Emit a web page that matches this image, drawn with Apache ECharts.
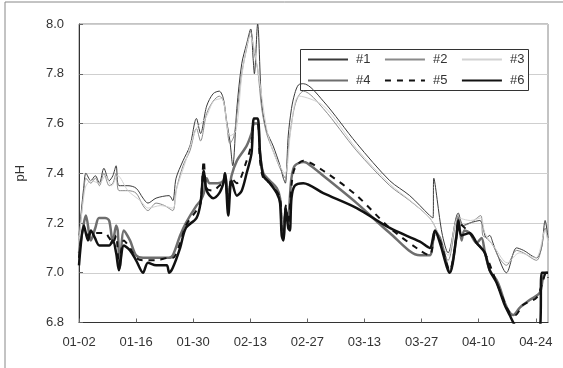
<!DOCTYPE html>
<html><head><meta charset="utf-8">
<script src="https://cdn.jsdelivr.net/npm/echarts@6/dist/echarts.min.js"></script>
<style>html,body{margin:0;padding:0;background:#fff}#c{width:563px;height:368px}</style>
</head><body><div id="c"></div>
<script>
const xTickLabels = ['01-02','01-16','01-30','02-13','02-27','03-13','03-27','04-10','04-24'];
const seriesNames = ['#1','#2','#3','#4','#5','#6'];

const days1 = [0,1.2,1.7,2.9,4.0,5.0,6.1,7.4,8.3,9.1,9.8,12,14,15.7,16.9,18.9,22.1,23.0,23.8,25.5,27.2,28.8,29.8,31.3,32.9,34.4,35.4,36.2,37.0,37.7,38.7,39.9,41.1,42.1,42.7,43.0,43.8,44.8,46.0,47.6,49.3,50.1,50.6,51.3,52.1,52.9,53.8,55.0,59.9,68.1,76.2,81.1,86.0,86.8,87.0,89.0,90.5,93.0,94.2,95.8,98.3,99.9,100.7,101.5,102.4,104.8,107.3,109,112.2,113.4,114.3,115];
const ph1 = [7.15,7.35,7.40,7.37,7.39,7.36,7.42,7.37,7.39,7.43,7.35,7.35,7.34,7.30,7.28,7.30,7.31,7.29,7.38,7.45,7.51,7.62,7.56,7.67,7.72,7.73,7.70,7.61,7.53,7.43,7.66,7.84,7.92,7.98,7.86,7.80,8.00,7.68,7.57,7.51,7.43,7.38,7.36,7.55,7.66,7.72,7.755,7.76,7.69,7.52,7.37,7.31,7.23,7.22,7.38,7.16,7.08,7.24,7.19,7.20,7.21,7.14,7.15,7.12,7.08,7.00,7.10,7.09,7.06,7.10,7.21,7.14];

const days2 = [0,1.2,1.7,2.9,4.0,5.0,6.1,7.4,8.3,9.1,9.8,12,14,15.7,16.9,18.9,21,23.0,23.8,25.5,27.2,28.8,29.8,31.3,32.9,34.4,35.4,36.2,37.0,38.0,39.9,41.1,42.1,43.0,43.8,44.8,46.0,47.6,49.3,50.6,51.3,52.1,52.9,53.8,55.0,59.9,68.1,76.2,81.1,86.0,88.0,90.5,93.0,94.2,96,98.5,99.0,99.9,101.5,103,104.8,107.3,109,112.2,113.4,114.3,115];
const ph2 = [7.13,7.33,7.38,7.36,7.38,7.35,7.40,7.35,7.36,7.40,7.33,7.33,7.32,7.27,7.25,7.28,7.27,7.25,7.33,7.43,7.49,7.58,7.53,7.64,7.69,7.71,7.69,7.60,7.52,7.55,7.80,7.90,7.97,7.88,7.82,7.66,7.56,7.49,7.42,7.38,7.50,7.60,7.67,7.71,7.73,7.66,7.49,7.35,7.29,7.22,7.16,7.05,7.23,7.19,7.20,7.23,7.15,7.14,7.11,7.06,7.03,7.09,7.08,7.05,7.10,7.18,7.13];

const days3 = [0,1.5,3,5,6.5,8,9.5,12,15,17,20,23,24,26,28.8,31,33,35,37,38.5,40,42,44,46,48,50.5,52,54,60,68,76,82,86,88,90.5,93,96,98.5,99.5,102,105,108,112,114.3,115];
const ph3 = [7.12,7.34,7.37,7.36,7.39,7.35,7.39,7.33,7.29,7.26,7.27,7.26,7.34,7.44,7.58,7.62,7.69,7.70,7.55,7.57,7.80,7.95,7.80,7.58,7.47,7.40,7.58,7.71,7.67,7.50,7.36,7.28,7.22,7.16,7.07,7.22,7.21,7.22,7.16,7.10,7.04,7.08,7.06,7.17,7.12];

const days4 = [0,1.2,1.7,2.9,4.0,4.9,6.4,7.4,8.3,9.1,9.5,10.0,11.0,12.5,14.0,15.7,18,22,23,24.8,26.2,28.8,29.8,30.6,31.3,32,34,35.4,35.8,36.6,37.4,38.7,41.1,42.3,42.9,43.8,44.4,45.2,46.8,48.5,49.3,49.7,50.1,50.7,51.3,51.7,52.1,52.9,55.0,56,59.9,68.1,76.2,83.6,86.0,87.3,88.5,89.5,90.9,91.8,92.6,93.0,93.8,94.5,95.8,97.5,98.7,99.5,100.7,102.4,103.2,104.4,105.6,106.5,108.1,110.5,113.0,113.8,114.7,115];
const ph4 = [7.08,7.20,7.23,7.13,7.18,7.22,7.22,7.21,7.12,7.19,7.17,7.02,7.17,7.13,7.07,7.06,7.06,7.06,7.07,7.15,7.20,7.27,7.29,7.32,7.38,7.36,7.36,7.37,7.40,7.31,7.39,7.45,7.51,7.56,7.60,7.60,7.48,7.40,7.37,7.34,7.30,7.18,7.14,7.25,7.20,7.30,7.38,7.43,7.445,7.44,7.39,7.28,7.16,7.07,7.07,7.165,7.14,7.08,7.005,7.06,7.16,7.22,7.13,7.17,7.16,7.12,7.14,7.085,7.01,6.97,6.94,6.88,6.84,6.83,6.86,6.89,6.92,6.98,7.00,7.00];

const days5 = [0,1.2,2.2,3,4.5,6.4,7.4,8.3,9.1,9.8,11.0,12.5,14.0,15.7,18.9,22.1,23.0,24.8,26.2,28.8,29.8,30.6,31.3,32.9,34.4,35.4,35.8,36.6,37.4,38.7,41.1,42.3,42.9,43.8,44.4,45.2,46.8,49.3,49.7,50.1,50.7,51.3,52.1,52.9,55.0,59.9,68.1,76.2,83.6,86.0,87.3,88.5,90.9,92.6,93.0,95.8,97.5,99.5,102.4,104.4,105.6,107,108.8,112.2,113.8,114.5,115];
const ph5 = [7.06,7.18,7.15,7.16,7.16,7.16,7.14,7.12,7.15,7.03,7.13,7.10,7.06,7.05,7.05,7.06,7.06,7.12,7.19,7.25,7.28,7.45,7.34,7.33,7.35,7.36,7.38,7.27,7.38,7.36,7.45,7.52,7.60,7.60,7.45,7.38,7.36,7.30,7.17,7.15,7.27,7.20,7.35,7.42,7.45,7.41,7.31,7.18,7.09,7.07,7.15,7.13,7.01,7.15,7.20,7.16,7.12,7.08,6.96,6.88,6.84,6.83,6.87,6.90,6.97,7.00,6.98];

const days6 = [0,1.2,2.2,2.9,3.9,5.0,7.4,8.3,9.1,9.8,11.0,12.5,14.0,15.7,16.9,18.9,21.5,22.1,23.0,24.8,26.2,28.8,29.8,30.6,31.3,32.9,34.4,35.4,35.8,36.6,37.4,38.7,39.9,41.1,42.3,42.9,43.8,44.4,45.2,46.8,48.5,49.3,49.7,50.1,50.7,51.3,51.7,52.1,52.9,55.0,59.9,68.1,76.2,83.6,86.0,87.3,88.5,90.9,92.6,93.0,93.8,95.8,97.5,99.5,100.7,102.4,104.4,105.6,107.3,110,113.0,113.5,115];
const ph6 = [7.03,7.19,7.13,7.17,7.14,7.11,7.11,7.13,7.08,7.01,7.11,7.09,7.05,7.00,7.04,7.03,7.03,7.00,7.02,7.10,7.18,7.22,7.28,7.41,7.33,7.30,7.32,7.36,7.40,7.23,7.37,7.31,7.33,7.40,7.48,7.62,7.62,7.48,7.39,7.36,7.32,7.28,7.15,7.13,7.26,7.18,7.17,7.30,7.35,7.36,7.32,7.26,7.18,7.125,7.10,7.17,7.12,7.00,7.15,7.21,7.15,7.16,7.12,7.08,7.01,6.96,6.87,6.83,6.78,6.76,6.77,7.00,7.00];

const allDays = [days1,days2,days3,days4,days5,days6];
const allPh = [ph1,ph2,ph3,ph4,ph5,ph6];
const styles = [
  {color:'#3a3a3a', width:1, type:'solid'},
  {color:'#8a8a8a', width:1, type:'solid'},
  {color:'#d2d2d2', width:1, type:'solid'},
  {color:'#6e6e6e', width:2.5, type:'solid'},
  {color:'#111111', width:2, type:[6,6]},
  {color:'#111111', width:2.5, type:'solid'}
];

const series = seriesNames.map((n,i)=>({
  name:n, type:'line', symbol:'none', smooth:0.3, clip:true,
  lineStyle:styles[i], itemStyle:{color:styles[i].color},
  data: allDays[i].map((d,j)=>[d, allPh[i][j]])
}));

function makeLegend(names, top){
  return {
    data:names, top:top, left:307, padding:0, itemWidth:40, itemHeight:14, itemGap:13.5,
    selectedMode:false,
    itemStyle:{opacity:0},
    textStyle:{fontFamily:'Liberation Sans', fontSize:13, color:'#333', padding:[0,0,0,3]}
  };
}

const chart = echarts.init(document.getElementById('c'), null, {renderer:'canvas'});
chart.setOption({
  animation:false,
  backgroundColor:'#fff',
  graphic:[
    {type:'rect', shape:{x:5,y:2,width:620,height:420}, style:{fill:'none', stroke:'#888', lineWidth:1}, silent:true, z:0},
    {type:'rect', shape:{x:300.5,y:49.5,width:228,height:41}, style:{fill:'#fff', stroke:'#333', lineWidth:1}, silent:true, z:3}
  ],
  grid:{left:79, right:15, top:24, bottom:45.5, show:true, borderColor:'#888', borderWidth:1},
  legend:[ makeLegend(['#1','#2','#3'], 53), makeLegend(['#4','#5','#6'], 74) ],
  xAxis:{
    type:'value', min:0, max:115, interval:14,
    axisLine:{lineStyle:{color:'#333'}},
    axisTick:{inside:true, length:4, lineStyle:{color:'#666'}},
    splitLine:{show:false},
    axisLabel:{margin:13, fontFamily:'Liberation Sans', fontSize:13, color:'#333', showMaxLabel:false,
      formatter:v => (v % 14 === 0 ? xTickLabels[v/14] : '')}
  },
  yAxis:{
    type:'value', min:6.8, max:8.0, interval:0.2,
    name:'pH', nameLocation:'middle', nameGap:52, nameRotate:90,
    nameTextStyle:{fontFamily:'Liberation Sans', fontSize:13, color:'#333'},
    axisLine:{show:true, lineStyle:{color:'#333'}},
    axisTick:{show:true, inside:true, length:4, lineStyle:{color:'#666'}},
    splitLine:{lineStyle:{color:'#cfcfcf'}},
    axisLabel:{margin:15, fontFamily:'Liberation Sans', fontSize:13, color:'#333', formatter:v=>v.toFixed(1)}
  },
  series: series
});
</script></body></html>
